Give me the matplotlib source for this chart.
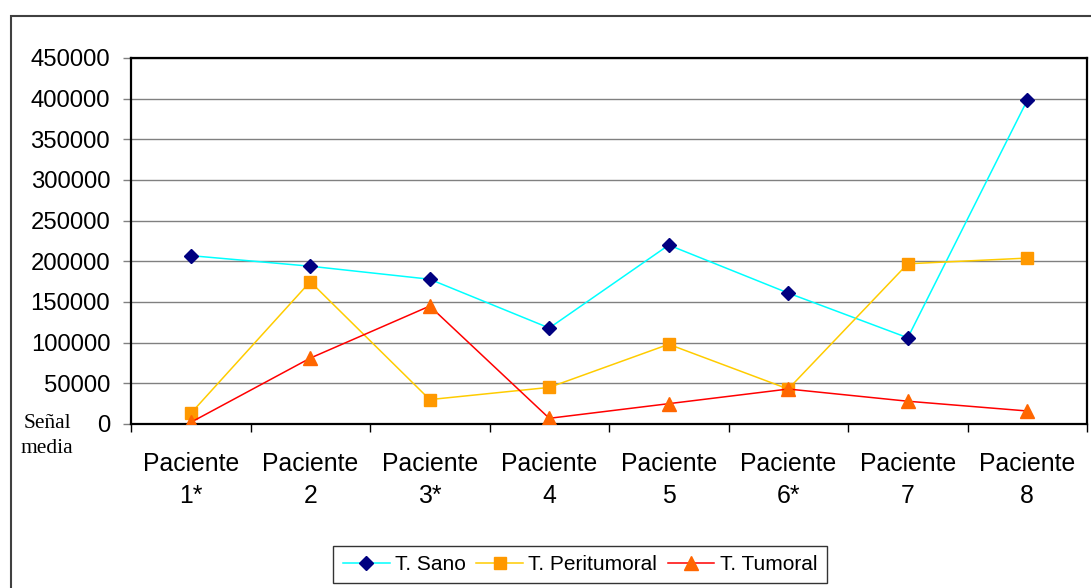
import matplotlib.pyplot as plt
import matplotlib.patches as mpatches
import numpy as np

plt.rcParams['font.family'] = ['Liberation Sans', 'DejaVu Sans']

pacientes = ['Paciente\n1*', 'Paciente\n2', 'Paciente\n3*', 'Paciente\n4',
             'Paciente\n5', 'Paciente\n6*', 'Paciente\n7', 'Paciente\n8']
sano = [207000, 194000, 178000, 118000, 220000, 161000, 106000, 398000]
peritumoral = [13000, 175000, 30000, 45000, 98000, 43000, 197000, 204000]
tumoral = [2000, 81000, 145000, 7000, 25000, 43000, 28000, 16000]

fig = plt.figure(figsize=(10.91, 5.88), dpi=100)
ax = fig.add_axes([131 / 1091, 1 - 424 / 588, 956 / 1091, 366 / 588])

x = np.arange(len(pacientes))
ax.plot(x, sano, color='#00FFFF', lw=1.1, marker='D', ms=7,
        mfc='#000080', mec='#000080', label='T. Sano', zorder=3)
ax.plot(x, peritumoral, color='#FFCC00', lw=1.1, marker='s', ms=9,
        mfc='#FF9900', mec='#FF9900', label='T. Peritumoral', zorder=3)
ax.plot(x, tumoral, color='#FF0000', lw=1.1, marker='^', ms=9.5,
        mfc='#FF6600', mec='#FF6600', label='T. Tumoral', zorder=3)

ax.set_xlim(-0.5, len(pacientes) - 0.5)
ax.set_ylim(0, 450000)
ax.set_yticks(np.arange(0, 450001, 50000))
ax.yaxis.grid(True, color='#808080', lw=1)
ax.set_axisbelow(True)

ax.set_xticks(x)
ax.set_xticklabels(pacientes, fontsize=17.8, linespacing=1.4)
ax.set_xticks(np.arange(-0.5, len(pacientes)), minor=True)
ax.tick_params(axis='x', which='major', length=0, pad=20.5)
ax.tick_params(axis='x', which='minor', length=6, width=1, color='black')
ax.tick_params(axis='y', length=6, width=1, color='#808080', pad=9, labelsize=17.2)

for s in ax.spines.values():
    s.set_color('black')
    s.set_linewidth(1.6)

fig.text(47 / 1091, 1 - 436 / 588, 'Señal\nmedia', family=['Liberation Serif'],
         fontsize=15.5, ha='center', va='center', linespacing=1.4)

# outer frame of the figure
frame = mpatches.Rectangle((11 / 1091, -0.1), 1.2, 1.1 - 16 / 588,
                           transform=fig.transFigure, fill=False,
                           edgecolor='#404040', lw=1.5)
fig.patches.append(frame)

leg = fig.legend(loc='center', bbox_to_anchor=(580 / 1091, 1 - 564.5 / 588), ncol=3,
                 fontsize=15, frameon=True, fancybox=False, edgecolor='black',
                 handlelength=2.25, handletextpad=0.25, columnspacing=0.5,
                 borderpad=0.45)
leg.get_frame().set_linewidth(1)

fig.savefig('out.png', dpi=100)
